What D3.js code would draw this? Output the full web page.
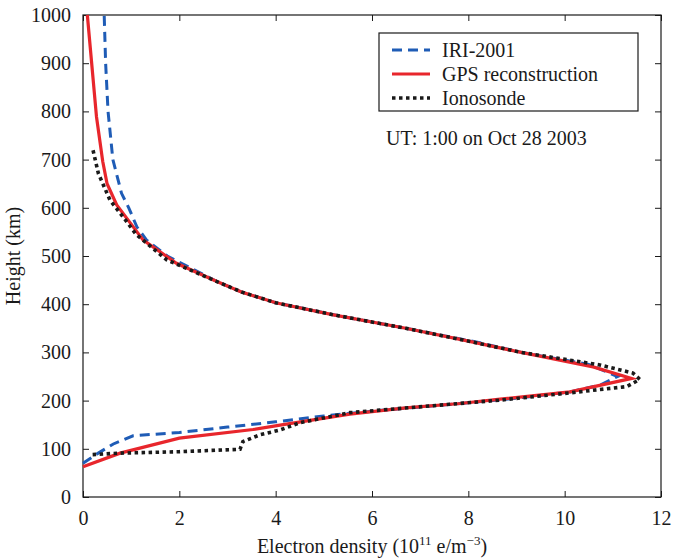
<!DOCTYPE html>
<html>
<head>
<meta charset="utf-8">
<script src="https://cdn.jsdelivr.net/npm/d3@7"></script>
<style>
  body { margin: 0; background: #fff; }
  svg text { font-family: "Liberation Serif", "Times New Roman", serif !important; fill: #1a1a1a; }
</style>
</head>
<body>
<div id="chart"></div>
<script>
// profils de densité électronique (hauteur en km, densité en 1e11 e/m^3)
const iriHeight  = [70, 90, 110, 127, 134, 145, 156, 168, 180, 194, 205, 218, 232, 250, 275, 300, 320, 350, 378, 403, 425, 447, 500, 533, 560, 600, 630, 700, 800, 900, 1000];
const iriDensity = [0, 0.3, 0.63, 1.04, 2.0, 3.0, 4.0, 5.0, 6.2, 7.83, 9.0, 10.11, 10.73, 11.1, 10.5, 9.1, 8.24, 6.7, 5.2, 4.0, 3.3, 2.78, 1.75, 1.32, 1.12, 0.95, 0.8, 0.62, 0.52, 0.47, 0.44];

const gpsHeight  = [63, 91, 122, 140, 149, 172, 185, 194, 203, 218, 246, 270, 300, 327, 350, 378, 403, 425, 447, 485, 533, 606, 650, 696, 789, 1000];
const gpsDensity = [0, 0.77, 2.0, 3.53, 4.09, 5.54, 6.7, 7.83, 8.66, 10.11, 11.39, 10.59, 9.1, 7.83, 6.7, 5.2, 4.0, 3.3, 2.78, 1.94, 1.25, 0.7, 0.5, 0.41, 0.28, 0.09];

const ionoHeight  = [88, 91, 94, 99, 115, 129, 139, 154, 175, 201, 216, 223, 229, 244, 257, 274, 300, 327, 350, 378, 403, 425, 447, 492, 545, 571, 616, 671, 723];
const ionoDensity = [0.2, 0.77, 2.0, 3.26, 3.32, 3.67, 4.09, 4.5, 5.54, 8.66, 10.11, 10.73, 11.29, 11.56, 11.42, 10.73, 9.1, 7.83, 6.7, 5.2, 4.0, 3.3, 2.78, 1.74, 1.1, 0.91, 0.56, 0.32, 0.2];

const xTicks = [0, 2, 4, 6, 8, 10, 12];
const yTicks = [0, 100, 200, 300, 400, 500, 600, 700, 800, 900, 1000];

const seriesNames = ["IRI-2001", "GPS reconstruction", "Ionosonde"];
const annotation = "UT: 1:00 on Oct 28 2003";

const serif = '"Liberation Serif", "Times New Roman", serif';
const width = 673, height = 559;
const margin = { top: 15, right: 12, bottom: 62, left: 83 };
const iw = width - margin.left - margin.right;
const ih = height - margin.top - margin.bottom;

const svg = d3.select("#chart").append("svg")
    .attr("width", width)
    .attr("height", height);

const g = svg.append("g")
    .attr("transform", `translate(${margin.left},${margin.top})`);

const x = d3.scaleLinear().domain([0, 12]).range([0, iw]);
const y = d3.scaleLinear().domain([0, 1000]).range([ih, 0]);

// axes avec graduations vers l'intérieur
const tickStyle = sel => {
    sel.attr("font-family", serif).attr("font-size", 20);
    sel.select(".domain").remove();
    sel.selectAll("line").attr("stroke", "#1a1a1a").attr("stroke-width", 1);
    sel.selectAll("text")
        .style("font-size", "20px")
        .attr("fill", "#1a1a1a");
};

g.append("g")
    .attr("transform", `translate(0,${ih})`)
    .call(d3.axisBottom(x).tickValues(xTicks).tickSize(-6).tickPadding(14).tickFormat(d3.format("d")))
    .call(tickStyle);

g.append("g")
    .call(d3.axisTop(x).tickValues(xTicks).tickSize(-6).tickFormat(""))
    .call(tickStyle);

g.append("g")
    .call(d3.axisLeft(y).tickValues(yTicks).tickSize(-6).tickPadding(12).tickFormat(d3.format("d")))
    .call(tickStyle);

g.append("g")
    .attr("transform", `translate(${iw},0)`)
    .call(d3.axisRight(y).tickValues(yTicks).tickSize(-6).tickFormat(""))
    .call(tickStyle);

g.append("rect")
    .attr("width", iw)
    .attr("height", ih)
    .attr("fill", "none")
    .attr("stroke", "#1a1a1a")
    .attr("stroke-width", 1.2);

const line = d3.line()
    .x(d => x(d[0]))
    .y(d => y(d[1]));

const series = [
    { name: seriesNames[0], dens: iriDensity, h: iriHeight, color: "#1f5cb6", width: 3, dash: "10,6" },
    { name: seriesNames[1], dens: gpsDensity, h: gpsHeight, color: "#e8262c", width: 3.2, dash: null },
    { name: seriesNames[2], dens: ionoDensity, h: ionoHeight, color: "#1a1a1a", width: 3.6, dash: "3.5,3.5" }
];

series.forEach(s => {
    g.append("path")
        .datum(d3.zip(s.dens, s.h))
        .attr("d", line)
        .attr("fill", "none")
        .attr("stroke", s.color)
        .attr("stroke-width", s.width)
        .attr("stroke-dasharray", s.dash);
});

// légende
const legend = svg.append("g").attr("transform", "translate(379,33)");
legend.append("rect")
    .attr("width", 259)
    .attr("height", 78)
    .attr("fill", "#fff")
    .attr("stroke", "#1a1a1a")
    .attr("stroke-width", 1.2);

series.forEach((s, i) => {
    const cy = 17 + i * 24;
    legend.append("line")
        .attr("x1", 13).attr("x2", 51)
        .attr("y1", cy).attr("y2", cy)
        .attr("stroke", s.color)
        .attr("stroke-width", s.width)
        .attr("stroke-dasharray", s.dash);
    legend.append("text")
        .attr("x", 63)
        .attr("y", cy + 7)
        .style("font-size", "20px")
        .text(s.name);
});

svg.append("text")
    .attr("x", 386)
    .attr("y", 145)
    .style("font-size", "20px")
    .text(annotation);

// titres des axes
const xt = svg.append("text")
    .attr("x", margin.left + iw / 2)
    .attr("y", 553)
    .attr("text-anchor", "middle")
    .style("font-size", "20px");
xt.append("tspan").text("Electron density (10");
xt.append("tspan").attr("dy", -8).style("font-size", "13px").text("11");
xt.append("tspan").attr("dy", 8).text(" e/m");
xt.append("tspan").attr("dy", -8).style("font-size", "13px").text("−3");
xt.append("tspan").attr("dy", 8).text(")");

svg.append("text")
    .attr("transform", `translate(20,${margin.top + ih / 2}) rotate(-90)`)
    .attr("text-anchor", "middle")
    .style("font-size", "20px")
    .text("Height (km)");
</script>
</body>
</html>
